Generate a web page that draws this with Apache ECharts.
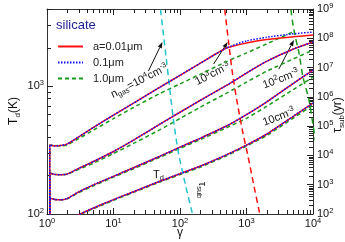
<!DOCTYPE html>
<html><head><meta charset="utf-8">
<script src="https://cdn.jsdelivr.net/npm/echarts@6/dist/echarts.min.js"></script>
<style>html,body{margin:0;padding:0;background:#fff}#c{width:345px;height:242px}</style>
</head><body><div id="c"></div>
<script>
// ---- data ----
const gammaT = [1.1, 1.1, 1.3, 1.6, 2, 3, 5, 10, 20, 50, 100, 200, 500, 1000, 2000, 5000, 10000];
// T_d (K) for n_gas = 1e4, 1e3, 1e2, 10 cm^-3 ; a = 0.01, 0.1, 1.0 um
const Td_n4_a001 = [10, 346, 340, 343, 352, 401, 475, 593, 735, 979, 1213, 1502, 1981, 2173, 2312, 2423, 2502];
const Td_n4_a01  = [10, 346, 340, 343, 352, 401, 475, 593, 735, 979, 1213, 1502, 1981, 2253, 2405, 2557, 2641];
const Td_n4_a1   = [10, 346, 343, 340, 346, 388, 453, 556, 680, 875, 1040, 1233, 1552, 1815, 2132, 2650, null];
const Td_n3_a001 = [10, 209, 204, 203, 205, 227, 257, 308, 378, 504, 624, 771, 1011, 1264, 1560, 1939, 2207];
const Td_n3_a01  = [10, 209, 204, 203, 205, 227, 257, 308, 378, 504, 624, 771, 1011, 1264, 1560, 1939, 2207];
const Td_n3_a1   = [10, 209, 204, 203, 205, 223, 250, 297, 356, 456, 557, 682, 879, 1072, 1303, 1625, 1911];
const Td_n2_a001 = [10, 133, 130, 129, 132, 149, 169, 197, 230, 283, 333, 390, 487, 598, 750, 1044, 1334];
const Td_n2_a01  = [10, 133, 130, 129, 132, 149, 169, 197, 230, 283, 333, 390, 487, 598, 750, 1044, 1334];
const Td_n2_a1   = [10, 133, 130, 129, 131, 147, 166, 194, 226, 278, 326, 381, 472, 559, 693, 935, 1175];
const Td_n1_a001 = [10, 88, 86.5, 86, 88, 98.7, 111.4, 129.4, 149.4, 180.4, 206.4, 236, 290, 345, 420, 578, 736];
const Td_n1_a01  = [10, 88, 86.5, 86, 88, 98.7, 111.4, 129.4, 149.4, 180.4, 206.4, 236, 290, 345, 420, 578, 736];
const Td_n1_a1   = [10, 88, 86.5, 86, 88, 98, 110, 128, 147.5, 178, 203, 232, 285, 340, 410, 560, 710];
// tau_sub (yr)
const tauGamma_n4 = [45, 50.8, 62.5, 79.8, 94.9, 121, 154, 197];
const tau_n4      = [1e10, 1e9, 1.82e7, 1.62e5, 1.21e4, 980, 100, 10];
const tauGamma_n3 = [423, 470, 540, 620, 737, 878, 1044, 1286, 1585, 1951];
const tau_n3      = [1e10, 1e9, 6.9e7, 5.57e6, 5.27e5, 6.31e4, 1.04e4, 977, 100, 10];
const tauGamma_n2 = [4345, 4656, 5164, 6149, 7066, 8710, 10000, 11490];
const tau_n2      = [1e10, 1e9, 1.92e8, 3.15e7, 4.76e6, 7.8e5, 1.1e5, 1.53e4];
// ticks
const minorMult = [2, 3, 4, 5, 6, 7, 8, 9];
const xDecades = [1, 10, 100, 1000];
const tDecades = [100, 1000];
const tauDecades = [1e2, 1e3, 1e4, 1e5, 1e6, 1e7, 1e8];
const sizeNames = ['a=0.01μm', '0.1μm', '1.0μm'];

// ---- build ----
const FONT = 'Liberation Sans, Arial, sans-serif';
const pairs = (xs, ys) => xs.map((x, i) => [x, ys[i]]).filter(p => p[1] != null);
const RED = '#ff1010', BLUE = '#1010ff', GREEN = '#1a9a1a', CYAN = '#22c4cc';

const series = [];
const sets = [
  [Td_n4_a001, Td_n4_a01, Td_n4_a1],
  [Td_n3_a001, Td_n3_a01, Td_n3_a1],
  [Td_n2_a001, Td_n2_a01, Td_n2_a1],
  [Td_n1_a001, Td_n1_a01, Td_n1_a1]
];
sets.forEach(s => {
  series.push({type:'line', name:sizeNames[2], data:pairs(gammaT, s[2]), symbol:'none', smooth:0.2, z:2,
    lineStyle:{color:GREEN, width:1.5, type:[4,3]}, itemStyle:{color:GREEN}});
  series.push({type:'line', name:sizeNames[0], data:pairs(gammaT, s[0]), symbol:'none', smooth:0.2, z:3,
    lineStyle:{color:RED, width:1.5}, itemStyle:{color:RED}});
  series.push({type:'line', name:sizeNames[1], data:pairs(gammaT, s[1]), symbol:'none', smooth:0.2, z:4,
    lineStyle:{color:BLUE, width:1.5, type:[1.5,1.5]}, itemStyle:{color:BLUE}});
});
[[tauGamma_n4, tau_n4, CYAN], [tauGamma_n3, tau_n3, RED], [tauGamma_n2, tau_n2, GREEN]].forEach(t => {
  series.push({type:'line', name:'tau', yAxisIndex:1, data:pairs(t[0], t[1]), symbol:'none', smooth:0.3, z:3,
    lineStyle:{color:t[2], width:1.5, type:[6,4]}});
});

const xMinor = [].concat(...xDecades.map(d => minorMult.map(m => m * d)));
const tMinor = [].concat(...tDecades.map(d => minorMult.map(m => m * d))).filter(v => v < 4000);
const tauMinor = [].concat(...tauDecades.map(d => minorMult.map(m => m * d)));
const TK = '#222', MINL = 4;
series.push({type:'custom', silent:true, xAxisIndex:0, yAxisIndex:0, data:xMinor.map(v => [v, 1000]),
  renderItem:(p, api) => { const cs = p.coordSys; const x = Math.round(api.coord([api.value(0), 1000])[0]) + 0.5;
    const yb = cs.y + cs.height; return {type:'group', children:[
      {type:'line', shape:{x1:x, y1:yb, x2:x, y2:yb - MINL}, style:{stroke:TK, lineWidth:1}},
      {type:'line', shape:{x1:x, y1:cs.y, x2:x, y2:cs.y + MINL}, style:{stroke:TK, lineWidth:1}}]}; }});
series.push({type:'custom', silent:true, xAxisIndex:0, yAxisIndex:0, data:tMinor.map(v => [10, v]),
  renderItem:(p, api) => { const cs = p.coordSys; const y = Math.round(api.coord([10, api.value(1)])[1]) + 0.5;
    return {type:'line', shape:{x1:cs.x, y1:y, x2:cs.x + MINL, y2:y}, style:{stroke:TK, lineWidth:1}}; }});
series.push({type:'custom', silent:true, xAxisIndex:0, yAxisIndex:1, data:tauMinor.map(v => [10, v]),
  renderItem:(p, api) => { const cs = p.coordSys; const y = Math.round(api.coord([10, api.value(1)])[1]) + 0.5;
    const xr = cs.x + cs.width; return {type:'line', shape:{x1:xr, y1:y, x2:xr - MINL, y2:y}, style:{stroke:TK, lineWidth:1}}; }});

function powLabel(v) {
  const l = Math.log10(v), e = Math.round(l);
  if (Math.abs(l - e) > 1e-6) return '';
  return '{b|10}{s|' + e + '}';
}
const richPow = {b:{fontSize:11, lineHeight:14, fontFamily:FONT, color:'#111'},
                 s:{fontSize:7.5, lineHeight:7, verticalAlign:'top', fontFamily:FONT, color:'#111'}};
const axLine = {show:true, lineStyle:{color:'#333', width:1}};
const majTick = {show:true, inside:true, length:6, lineStyle:{color:TK}};

const option = {
  animation:false,
  grid:{left:47, right:32, top:9, bottom:28},
  legend:{data:sizeNames, orient:'vertical', left:52, top:36, itemWidth:25, itemHeight:12, itemGap:5,
    itemStyle:{opacity:0},
    textStyle:{fontSize:11, color:'#222', fontFamily:FONT, padding:[0,0,0,5]}},
  xAxis:[
    {type:'log', min:1, max:10000, position:'bottom', axisLine:axLine, axisTick:majTick, splitLine:{show:false},
     axisLabel:{formatter:powLabel, rich:richPow, margin:3, showMinLabel:true, showMaxLabel:true}},
    {type:'log', min:1, max:10000, position:'top', axisLine:axLine, axisTick:majTick, splitLine:{show:false},
     axisLabel:{show:false}}
  ],
  yAxis:[
    {type:'log', min:100, max:4000, position:'left', axisLine:axLine, axisTick:majTick, splitLine:{show:false},
     axisLabel:{formatter:powLabel, rich:richPow, margin:3}},
    {type:'log', min:100, max:1e9, position:'right', axisLine:axLine, axisTick:majTick, splitLine:{show:false},
     axisLabel:{formatter:powLabel, rich:richPow, margin:4}}
  ],
  series
};
const chart = echarts.init(document.getElementById('c'));
chart.setOption(option);

// ---- annotations (data coords on gamma / T_d axes) ----
const arrowsFrom = [[33.5, 1309], [320, 1486], [3069, 1358]];
const arrowsTo   = [[54.4, 2207], [521, 2207], [5164, 2288]];
const labelPos   = [[24.5, 1094], [310, 1241], [3289, 1135], [3069, 573], [47.4, 202], [211, 154]];
const labelAng   = [27, 27, 21, 21, 0, -90];
const labelTxt   = ['{t|n}{sb|gas}{t|=10}{sp|4}{t|cm}{sp|-3}', '{t|10}{sp|3}{t|cm}{sp|-3}', '{t|10}{sp|2}{t|cm}{sp|-3}',
                    '{t|10cm}{sp|-3}', '{t|T}{sb|d}', '{t|τ}{sb|sub}'];
const richAnn = {t:{fontSize:11, lineHeight:14, fontFamily:FONT, fill:'#111', color:'#111'},
                 sp:{fontSize:7.5, lineHeight:7, verticalAlign:'top', fontFamily:FONT, fill:'#111', color:'#111'},
                 sb:{fontSize:7.5, lineHeight:7, verticalAlign:'bottom', fontFamily:FONT, fill:'#111', color:'#111'}};
const px = d => chart.convertToPixel({xAxisIndex:0, yAxisIndex:0}, d);
const graphic = [];
arrowsFrom.forEach((f, i) => {
  const a = px(f), b = px(arrowsTo[i]);
  const dx = b[0] - a[0], dy = b[1] - a[1], L = Math.hypot(dx, dy), ux = dx / L, uy = dy / L;
  const hl = 6, hw = 2.2;
  const bx = b[0] - ux * hl, by = b[1] - uy * hl;
  graphic.push({type:'line', shape:{x1:a[0], y1:a[1], x2:bx, y2:by}, style:{stroke:'#111', lineWidth:1}});
  graphic.push({type:'polygon', shape:{points:[[b[0], b[1]], [bx - uy * hw, by + ux * hw], [bx + uy * hw, by - ux * hw]]},
    style:{fill:'#111'}});
});
labelPos.forEach((p, i) => {
  const c = px(p);
  graphic.push({type:'text', x:c[0], y:c[1], rotation:labelAng[i] * Math.PI / 180,
    style:{text:labelTxt[i], rich:richAnn, align:'center', verticalAlign:'middle', textAlign:'center', textVerticalAlign:'middle'}});
});
// fixed texts
const richName = {t:{fontSize:12, lineHeight:15, fontFamily:FONT, fill:'#111', color:'#111'},
                  sb:{fontSize:8, lineHeight:8, verticalAlign:'bottom', fontFamily:FONT, fill:'#111', color:'#111'},
                  nv:{fontSize:13, lineHeight:15, fontFamily:FONT, fill:'#1e1e96', color:'#1e1e96'}};
graphic.push({type:'text', x:56, y:25, style:{text:'{nv|silicate}', rich:richName, align:'left', verticalAlign:'middle', textAlign:'left', textVerticalAlign:'middle'}});
graphic.push({type:'text', x:14, y:111, rotation:Math.PI / 2, style:{text:'{t|T}{sb|d}{t|(K)}', rich:richName, align:'center', verticalAlign:'middle', textAlign:'center', textVerticalAlign:'middle'}});
graphic.push({type:'text', x:338, y:115, rotation:Math.PI / 2, style:{text:'{t|τ}{sb|sub}{t|(yr)}', rich:richName, align:'center', verticalAlign:'middle', textAlign:'center', textVerticalAlign:'middle'}});
graphic.push({type:'text', x:180, y:233, style:{text:'{t|γ}', rich:richName, align:'center', verticalAlign:'middle', textAlign:'center', textVerticalAlign:'middle'}});
chart.setOption({graphic});
</script></body></html>
